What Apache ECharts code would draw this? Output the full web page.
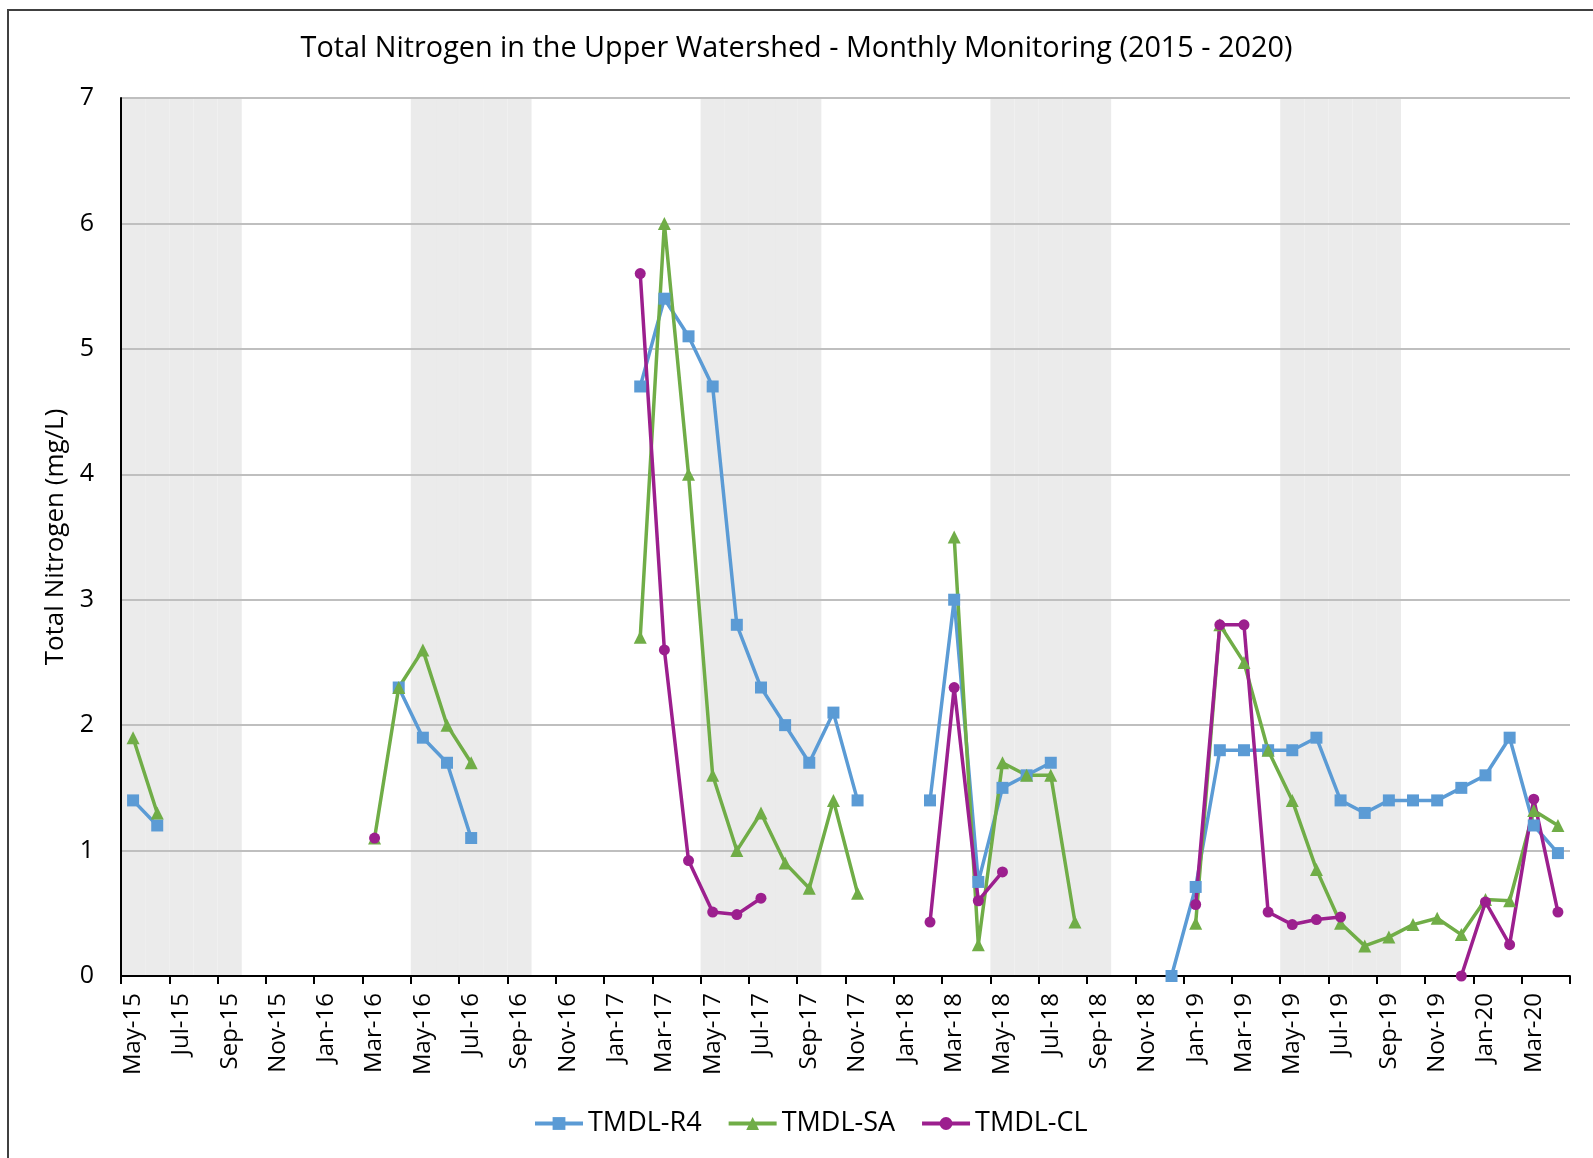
<!DOCTYPE html>
<html>
<head>
    <meta charset="utf-8">
    <title>Total Nitrogen in the Upper Watershed</title>
    <script src="https://cdn.jsdelivr.net/npm/echarts@6/dist/echarts.min.js"></script>
</head>
<body style="margin: 0; padding: 0; background: #fff;">
<div id="main" style="width: 1593px; height: 1158px;"></div>
<script type="text/javascript">
    // month slots on the axis (May-15 .. Apr-20)
    var months = [
        'May-15','Jun-15','Jul-15','Aug-15','Sep-15','Oct-15','Nov-15','Dec-15','Jan-16','Feb-16','Mar-16','Apr-16',
        'May-16','Jun-16','Jul-16','Aug-16','Sep-16','Oct-16','Nov-16','Dec-16','Jan-17','Feb-17','Mar-17','Apr-17',
        'May-17','Jun-17','Jul-17','Aug-17','Sep-17','Oct-17','Nov-17','Dec-17','Jan-18','Feb-18','Mar-18','Apr-18',
        'May-18','Jun-18','Jul-18','Aug-18','Sep-18','Oct-18','Nov-18','Dec-18','Jan-19','Feb-19','Mar-19','Apr-19',
        'May-19','Jun-19','Jul-19','Aug-19','Sep-19','Oct-19','Nov-19','Dec-19','Jan-20','Feb-20','Mar-20','Apr-20'
    ];

    // shaded season (grey bands)
    var shadedMonths = ['May', 'Jun', 'Jul', 'Aug', 'Sep'];

    var seriesNames = ['TMDL-R4', 'TMDL-SA', 'TMDL-CL'];

    var r4 = [
        1.4, 1.2, null, null, null, null, null, null, null, null, null, 2.3,
        1.9, 1.7, 1.1, null, null, null, null, null, null, 4.7, 5.4, 5.1,
        4.7, 2.8, 2.3, 2.0, 1.7, 2.1, 1.4, null, null, 1.4, 3.0, 0.75,
        1.5, 1.6, 1.7, null, null, null, null, 0.0, 0.71, 1.8, 1.8, 1.8,
        1.8, 1.9, 1.4, 1.3, 1.4, 1.4, 1.4, 1.5, 1.6, 1.9, 1.2, 0.98
    ];

    var sa = [
        1.9, 1.3, null, null, null, null, null, null, null, null, 1.1, 2.3,
        2.6, 2.0, 1.7, null, null, null, null, null, null, 2.7, 6.0, 4.0,
        1.6, 1.0, 1.3, 0.9, 0.7, 1.4, 0.66, null, null, null, 3.5, 0.25,
        1.7, 1.6, 1.6, 0.43, null, null, null, null, 0.42, 2.8, 2.5, 1.8,
        1.4, 0.85, 0.42, 0.24, 0.31, 0.41, 0.46, 0.33, 0.61, 0.6, 1.32, 1.2
    ];

    var cl = [
        null, null, null, null, null, null, null, null, null, null, 1.1, null,
        null, null, null, null, null, null, null, null, null, 5.6, 2.6, 0.92,
        0.51, 0.49, 0.62, null, null, null, null, null, null, 0.43, 2.3, 0.6,
        0.83, null, null, null, null, null, null, null, 0.57, 2.8, 2.8, 0.51,
        0.41, 0.45, 0.47, null, null, null, null, 0.0, 0.59, 0.25, 1.41, 0.51
    ];

    var yMax = 7;

    var font = '"Open Sans", "Noto Sans", sans-serif';

    var bandData = months.map(function (m) {
        return shadedMonths.indexOf(m.split('-')[0]) >= 0 ? yMax : null;
    });

    function lineSeries(name, data, color, symbol, size) {
        return {
            name: name,
            type: 'line',
            data: data,
            symbol: symbol,
            symbolSize: size,
            showAllSymbol: true,
            connectNulls: false,
            lineStyle: { color: color, width: 3.5 },
            itemStyle: { color: color },
            emphasis: { disabled: true },
            z: 3
        };
    }

    var myChart = echarts.init(document.getElementById('main'));

    var option = {
        animation: false,
        color: ['#5b9bd5', '#70ad47', '#9c1f8e'],
        title: {
            text: 'Total Nitrogen in the Upper Watershed - Monthly Monitoring (2015 - 2020)',
            left: 'center',
            top: 29,
            textStyle: { fontFamily: font, fontSize: 28.8, fontWeight: 'normal', color: '#000' }
        },
        graphic: [{
            type: 'rect',
            silent: true,
            z: 100,
            shape: { x: 8, y: 10, width: 1600, height: 1200 },
            style: { fill: 'none', stroke: '#404040', lineWidth: 2 }
        }],
        legend: {
            data: seriesNames,
            left: 528,
            top: 1105,
            itemWidth: 48,
            itemHeight: 16,
            itemGap: 25,
            lineStyle: { width: 4 },
            textStyle: { fontFamily: font, fontSize: 27, color: '#000' }
        },
        grid: { left: 121, right: 23, top: 98, bottom: 182 },
        xAxis: {
            type: 'category',
            data: months,
            boundaryGap: true,
            axisLine: { lineStyle: { color: '#000', width: 2 } },
            axisTick: { show: true, interval: 1, length: 8, lineStyle: { color: '#000', width: 2 } },
            axisLabel: { interval: 1, rotate: 90, margin: 17, fontFamily: font, fontSize: 24, color: '#000' },
            splitLine: { show: false }
        },
        yAxis: {
            type: 'value',
            min: 0,
            max: yMax,
            interval: 1,
            name: 'Total Nitrogen (mg/L)',
            nameLocation: 'middle',
            nameGap: 46,
            nameTextStyle: { fontFamily: font, fontSize: 26, color: '#000' },
            axisLine: { show: true, lineStyle: { color: '#000', width: 2 } },
            axisTick: { show: false },
            axisLabel: { margin: 27, fontFamily: font, fontSize: 25, color: '#000' },
            splitLine: { lineStyle: { color: '#bfbfbf', width: 2 } }
        },
        series: [
            {
                name: 'season',
                type: 'bar',
                data: bandData,
                barCategoryGap: '0%',
                barWidth: '100%',
                silent: true,
                itemStyle: { color: '#ebebeb', borderColor: '#ebebeb', borderWidth: 2 },
                z: -1
            },
            lineSeries(seriesNames[0], r4, '#5b9bd5', 'rect', 12),
            lineSeries(seriesNames[1], sa, '#70ad47', 'triangle', 13),
            lineSeries(seriesNames[2], cl, '#9c1f8e', 'circle', 11)
        ]
    };

    myChart.setOption(option);
</script>
</body>
</html>
